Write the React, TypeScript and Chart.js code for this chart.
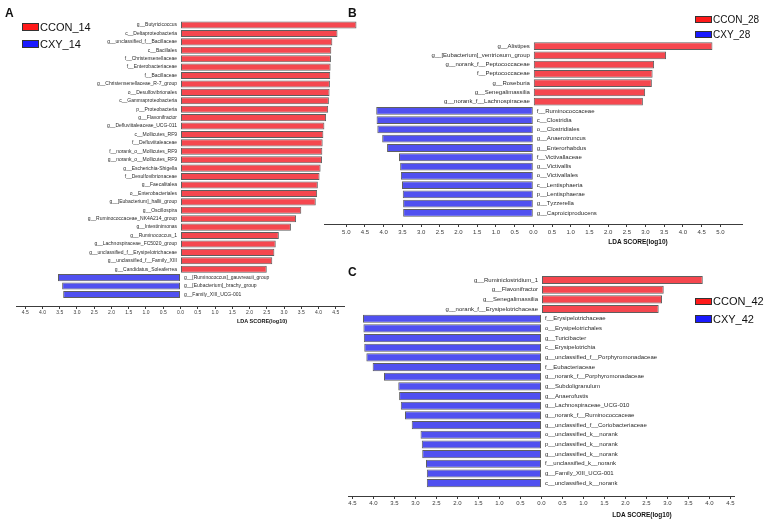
import React, { useEffect, useRef } from 'react';
import { Chart, registerables } from 'chart.js';

Chart.register(...registerables);

const FONT = '"Liberation Sans", Arial, Helvetica, sans-serif';
const RED = '#f5474f';
const BLUE = '#5050f0';
const EDGE = '#5f5f5f';
const AXIS = '#3c3c3c';

// ---------- Panel A (day 14) ----------
const A_CCON_LABELS = [
  'g__Butyricicoccus', 'c__Deltaproteobacteria', 'g__unclassified_f__Bacillaceae', 'c__Bacillales',
  'f__Christensenellaceae', 'f__Enterobacteriaceae', 'f__Bacillaceae', 'g__Christensenellaceae_R-7_group',
  'o__Desulfovibrionales', 'c__Gammaproteobacteria', 'p__Proteobacteria', 'g__Flavonifractor',
  'g__Defluviitaleaceae_UCG-011', 'c__Mollicutes_RF9', 'f__Defluviitaleaceae', 'f__norank_o__Mollicutes_RF9',
  'g__norank_o__Mollicutes_RF9', 'g__Escherichia-Shigella', 'f__Desulfovibrionaceae', 'g__Faecalitalea',
  'o__Enterobacteriales', 'g__[Eubacterium]_hallii_group', 'g__Oscillospira', 'g__Ruminococcaceae_NK4A214_group',
  'g__Intestinimonas', 'g__Ruminococcus_1', 'g__Lachnospiraceae_FC5020_group', 'g__unclassified_f__Erysipelotrichaceae',
  'g__unclassified_f__Family_XIII', 'g__Candidatus_Soleaferrea',
];
const A_CCON_VALUES = [
  5.1, 4.55, 4.4, 4.37, 4.36, 4.35, 4.34, 4.33, 4.32, 4.3, 4.28, 4.22, 4.17, 4.14, 4.12,
  4.11, 4.1, 4.06, 4.03, 3.98, 3.96, 3.92, 3.5, 3.35, 3.2, 2.85, 2.76, 2.72, 2.66, 2.5,
];
const A_CXY_LABELS = ['g__[Ruminococcus]_gauvreauii_group', 'g__[Eubacterium]_brachy_group', 'g__Family_XIII_UCG-001'];
const A_CXY_VALUES = [3.55, 3.43, 3.4];
const A_TICKS = [-4.5, -4, -3.5, -3, -2.5, -2, -1.5, -1, -0.5, 0, 0.5, 1, 1.5, 2, 2.5, 3, 3.5, 4, 4.5];

// ---------- Panel B (day 28) ----------
const B_CCON_LABELS = [
  'g__Alistipes', 'g__[Eubacterium]_ventriosum_group', 'g__norank_f__Peptococcaceae', 'f__Peptococcaceae',
  'g__Roseburia', 'g__Senegalimassilia', 'g__norank_f__Lachnospiraceae',
];
const B_CCON_VALUES = [4.79, 3.55, 3.23, 3.19, 3.17, 2.99, 2.93];
const B_CXY_LABELS = [
  'f__Ruminococcaceae', 'c__Clostridia', 'o__Clostridiales', 'g__Anaerotruncus', 'g__Enterorhabdus',
  'f__Victivallaceae', 'g__Victivallis', 'o__Victivallales', 'c__Lentisphaeria', 'p__Lentisphaerae',
  'g__Tyzzerella', 'g__Caproiciproducens',
];
const B_CXY_VALUES = [4.2, 4.19, 4.17, 4.04, 3.91, 3.59, 3.56, 3.54, 3.51, 3.49, 3.48, 3.48];
const B_TICKS = [-5, -4.5, -4, -3.5, -3, -2.5, -2, -1.5, -1, -0.5, 0, 0.5, 1, 1.5, 2, 2.5, 3, 3.5, 4, 4.5, 5];

// ---------- Panel C (day 42) ----------
const C_CCON_LABELS = ['g__Ruminiclostridium_1', 'g__Flavonifractor', 'g__Senegalimassilia', 'g__norank_f__Erysipelotrichaceae'];
const C_CCON_VALUES = [3.84, 2.91, 2.87, 2.79];
const C_CXY_LABELS = [
  'f__Erysipelotrichaceae', 'o__Erysipelotrichales', 'g__Turicibacter', 'c__Erysipelotrichia',
  'g__unclassified_f__Porphyromonadaceae', 'f__Eubacteriaceae', 'g__norank_f__Porphyromonadaceae',
  'g__Subdoligranulum', 'g__Anaerofustis', 'g__Lachnospiraceae_UCG-010', 'g__norank_f__Ruminococcaceae',
  'g__unclassified_f__Coriobacteriaceae', 'o__unclassified_k__norank', 'p__unclassified_k__norank',
  'g__unclassified_k__norank', 'f__unclassified_k__norank', 'g__Family_XIII_UCG-001', 'c__unclassified_k__norank',
];
const C_CXY_VALUES = [4.25, 4.24, 4.23, 4.22, 4.17, 4.02, 3.75, 3.41, 3.39, 3.35, 3.25, 3.09, 2.88, 2.85, 2.84, 2.75, 2.73, 2.73];
const C_TICKS = [-4.5, -4, -3.5, -3, -2.5, -2, -1.5, -1, -0.5, 0, 0.5, 1, 1.5, 2, 2.5, 3, 3.5, 4, 4.5];

type PanelProps = {
  conLabels: string[];
  conValues: number[];
  cxyLabels: string[];
  cxyValues: number[];
  ticks: number[];
  xMin: number;
  xMax: number;
  extraRows: number;
  left: number;
  top: number;
  width: number;
  height: number;
  pad: { left: number; right: number; top: number; bottom: number };
  labelSize: number;
  tickSize: number;
  tickPad: number;
};

function BarPanel(p: PanelProps) {
  const ref = useRef<HTMLCanvasElement>(null);
  useEffect(() => {
    const canvas = ref.current;
    if (!canvas) return;
    const labels = [...p.conLabels, ...p.cxyLabels];
    const values = [...p.conValues, ...p.cxyValues.map((v) => -v)];
    const n = values.length;
    const rowLabels = {
      id: 'rowLabels',
      afterDatasetsDraw(chart: any) {
        const { ctx, scales } = chart;
        const xs = scales.x;
        const ys = scales.y;
        const x0 = xs.getPixelForValue(0);
        ctx.save();
        ctx.font = `${p.labelSize}px ${FONT}`;
        ctx.fillStyle = '#2a2a2a';
        ctx.textBaseline = 'middle';
        labels.forEach((lab, i) => {
          const yp = ys.getPixelForValue(i);
          if (values[i] >= 0) {
            ctx.textAlign = 'right';
            ctx.fillText(lab, x0 - 3.5, yp);
          } else {
            ctx.textAlign = 'left';
            ctx.fillText(lab, x0 + 3.5, yp);
          }
        });
        ctx.restore();
      },
    };
    const chart = new Chart(canvas, {
      type: 'bar',
      data: {
        datasets: [
          {
            data: values.map((v, i) => ({ x: v, y: i })),
            backgroundColor: values.map((v) => (v >= 0 ? RED : BLUE)),
            borderColor: EDGE,
            borderWidth: 1,
            borderSkipped: false,
            barPercentage: 0.84,
            categoryPercentage: 1,
            clip: false,
          } as any,
        ],
      },
      options: {
        indexAxis: 'y',
        animation: false,
        responsive: false,
        maintainAspectRatio: false,
        layout: { padding: p.pad },
        plugins: { legend: { display: false }, tooltip: { enabled: false }, title: { display: false } },
        scales: {
          x: {
            type: 'linear',
            min: p.xMin,
            max: p.xMax,
            afterBuildTicks: (s: any) => {
              s.ticks = p.ticks.map((v) => ({ value: v }));
            },
            afterFit: (s: any) => {
              s.height = 14;
            },
            grid: { display: true, drawOnChartArea: false, drawTicks: true, tickLength: 3, color: AXIS, lineWidth: 1 },
            border: { display: true, color: AXIS, width: 1 },
            ticks: {
              autoSkip: false,
              maxRotation: 0,
              padding: p.tickPad,
              color: '#3a3a3a',
              font: { size: p.tickSize, family: FONT },
              callback: (v: any) => Math.abs(Number(v)).toFixed(1),
            },
          },
          y: {
            type: 'linear',
            reverse: true,
            offset: false,
            min: -0.5,
            max: n - 0.5 + p.extraRows,
            display: false,
            grid: { offset: false },
          },
        },
      } as any,
      plugins: [rowLabels],
    });
    return () => chart.destroy();
  }, []);
  return (
    <canvas
      ref={ref}
      width={p.width}
      height={p.height}
      style={{ position: 'absolute', left: p.left, top: p.top, width: p.width, height: p.height }}
    />
  );
}

function Text(props: { s: string; x: number; cy: number; size: number; bold?: boolean; center?: boolean }) {
  const lh = Math.round(props.size * 1.25);
  return (
    <div
      style={{
        position: 'absolute',
        left: props.x,
        top: props.cy - lh / 2,
        fontSize: props.size,
        lineHeight: `${lh}px`,
        fontWeight: props.bold ? 700 : 400,
        whiteSpace: 'nowrap',
        color: '#111',
        transform: props.center ? 'translateX(-50%)' : undefined,
      }}
    >
      {props.s}
    </div>
  );
}

function Legend(props: { x: number; y1: number; y2: number; bw: number; bh: number; size: number; names: string[] }) {
  const box = (y: number, c: string) => (
    <div
      style={{
        position: 'absolute',
        left: props.x,
        top: y,
        width: props.bw,
        height: props.bh,
        boxSizing: 'border-box',
        border: '1px solid #333',
        background: c,
      }}
    />
  );
  return (
    <>
      {box(props.y1, '#ff1a1a')}
      <Text s={props.names[0]} x={props.x + props.bw + 1} cy={props.y1 + props.bh / 2} size={props.size} />
      {box(props.y2, '#1a1aff')}
      <Text s={props.names[1]} x={props.x + props.bw + 1} cy={props.y2 + props.bh / 2} size={props.size} />
    </>
  );
}

export default function App() {
  return (
    <div
      style={{
        position: 'absolute',
        left: 0,
        top: 0,
        width: 767,
        height: 520,
        background: '#fff',
        overflow: 'hidden',
        fontFamily: FONT,
      }}
    >
      <BarPanel
        conLabels={A_CCON_LABELS}
        conValues={A_CCON_VALUES}
        cxyLabels={A_CXY_LABELS}
        cxyValues={A_CXY_VALUES}
        ticks={A_TICKS}
        xMin={-4.75}
        xMax={4.75}
        extraRows={0.87}
        left={0}
        top={0}
        width={380}
        height={320}
        pad={{ left: 16.6, right: 35.6, top: 20.8, bottom: 0 }}
        labelSize={5}
        tickSize={5}
        tickPad={1}
      />
      <BarPanel
        conLabels={B_CCON_LABELS}
        conValues={B_CCON_VALUES}
        cxyLabels={B_CXY_LABELS}
        cxyValues={B_CXY_VALUES}
        ticks={B_TICKS}
        xMin={-5.58}
        xMax={5.58}
        extraRows={0.7}
        left={310}
        top={0}
        width={457}
        height={238}
        pad={{ left: 14.6, right: 25, top: 41.4, bottom: 0 }}
        labelSize={6}
        tickSize={6}
        tickPad={2}
      />
      <BarPanel
        conLabels={C_CCON_LABELS}
        conValues={C_CCON_VALUES}
        cxyLabels={C_CXY_LABELS}
        cxyValues={C_CXY_VALUES}
        ticks={C_TICKS}
        xMin={-4.6}
        xMax={4.6}
        extraRows={0.83}
        left={310}
        top={250}
        width={457}
        height={260}
        pad={{ left: 38.3, right: 32.3, top: 25.2, bottom: 0 }}
        labelSize={6}
        tickSize={6}
        tickPad={1}
      />

      <Text s="A" x={5} cy={13} size={12} bold />
      <Text s="B" x={348} cy={13} size={12} bold />
      <Text s="C" x={348} cy={272} size={12} bold />

      <Text s="LDA SCORE(log10)" x={262} cy={321} size={5.5} bold center />
      <Text s="LDA SCORE(log10)" x={638} cy={242} size={6.5} bold center />
      <Text s="LDA SCORE(log10)" x={642} cy={515} size={6.5} bold center />

      <Legend x={22} y1={23} y2={40} bw={17} bh={8} size={11} names={['CCON_14', 'CXY_14']} />
      <Legend x={695} y1={16} y2={30.5} bw={17} bh={7} size={10} names={['CCON_28', 'CXY_28']} />
      <Legend x={695} y1={297.5} y2={315} bw={17} bh={7.5} size={11} names={['CCON_42', 'CXY_42']} />
    </div>
  );
}
